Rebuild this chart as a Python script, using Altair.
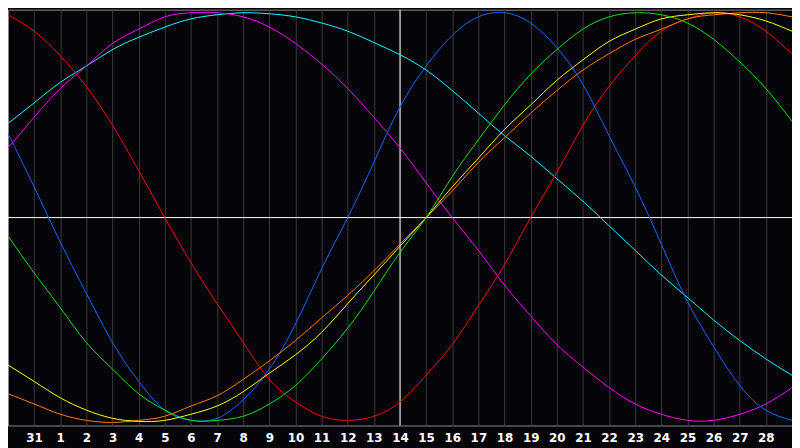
import json
import altair as alt
import pandas as pd

# Day labels for indices 0..30 (index 0 and 30 sit on the frame, unlabeled)
day_labels = ["30", "31"] + [str(d) for d in range(1, 30)]
label_idx = list(range(1, 30))
today_idx = 15  # "14"

# Biorhythm values (percent), read at each day index 0..30
physical = [41, 15, -12, -37, -61, -80, -94, -99, -98, -89, -74, -52, -25, 0, 27, 54,
            74, 89, 98, 100, 95, 83, 65, 40, 15, -13, -41, -63, -82, -94, -99]
emotional = [99, 91, 79, 64, 45, 23, 0, -22, -42, -61, -79, -90, -97, -99, -97, -90,
             -77, -62, -43, -23, 0, 22, 45, 64, 79, 91, 97, 100, 98, 91, 80]
intellectual = [-9, -27, -44, -61, -74, -86, -94, -99, -99, -97, -91, -82, -69, -54, -36, -17,
                0, 20, 38, 55, 70, 82, 92, 98, 100, 99, 95, 87, 76, 63, 47]
intuitive = [34, 49, 63, 74, 85, 92, 98, 100, 100, 98, 93, 85, 75, 63, 49, 34,
             17, 0, -16, -33, -48, -62, -73, -83, -91, -96, -99, -99, -96, -91, -83]
aesthetic = [-72, -80, -88, -94, -98, -99.5, -99, -96, -92, -85, -76, -67, -56, -42, -28, -14,
             0, 15, 29, 43, 55, 67, 77, 86, 92, 97, 99, 100, 99, 96, 91]
awareness = [-86, -91, -96, -99, -100, -99, -97, -92, -87, -79, -70, -60, -49, -38, -26, -13,
             0, 13, 27, 39, 51, 62, 72, 80, 87, 92, 97, 99, 100, 100, 98]
spiritual = [46, 56, 66, 74, 82, 88, 93, 97, 99, 100, 99.5, 98, 95, 91, 85.5, 79.5,
             72, 62, 51, 40, 30, 19, 8, -4, -16, -28, -39, -50, -60, -69, -77]

series_names = ["Spiritual", "Intuitive", "Emotional", "Physical", "Awareness", "Aesthetic", "Intellectual"]
series_values = [spiritual, intuitive, emotional, physical, awareness, aesthetic, intellectual]
series_colors = ["#00ffff", "#ff00ff", "#ff0000", "#1066ff", "#ff7a00", "#ffff00", "#10e010"]

rows = []
for name, vals in zip(series_names, series_values):
    for i, v in enumerate(vals):
        rows.append({"idx": i, "value": v, "series": name})
df = pd.DataFrame(rows)

xscale = alt.Scale(domain=[0, 30], nice=False, zero=False)
yscale = alt.Scale(domain=[-101.5, 101.5], nice=False, zero=False)

label_expr = json.dumps(day_labels) + "[datum.value]"

base_x_axis = alt.Axis(
    values=label_idx,
    labelExpr=label_expr,
    grid=True,
    gridColor="#3a3a3a",
    gridWidth=1,
    ticks=False,
    domain=False,
    labelColor="#ffffff",
    labelFont="DejaVu Sans",
    labelFontWeight="bold",
    labelFontSize=12,
    labelPadding=7,
    labelFlush=False,
    title=None,
)

hrule = alt.Chart(pd.DataFrame({"value": [0]})).mark_rule(color="#ffffff", strokeWidth=1).encode(
    y=alt.Y("value:Q", scale=yscale, axis=None)
)
vrule = alt.Chart(pd.DataFrame({"idx": [today_idx]})).mark_rule(color="#ffffff", strokeWidth=1).encode(
    x=alt.X("idx:Q", scale=xscale, axis=base_x_axis)
)

lines = alt.Chart(df).mark_line(strokeWidth=1, interpolate="natural").encode(
    x=alt.X("idx:Q", scale=xscale, axis=base_x_axis),
    y=alt.Y("value:Q", scale=yscale, axis=None),
    color=alt.Color("series:N", scale=alt.Scale(domain=series_names, range=series_colors), legend=None),
    detail="series:N",
    order="idx:Q",
)

chart = alt.layer(vrule, hrule, lines).properties(
    width=790,
    height=419,
    background="#050408",
    padding={"left": 0, "top": 0, "right": 0, "bottom": 21},
    autosize=alt.AutoSizeParams(type="none"),
).configure_view(
    stroke="#8a8a8a",
    strokeWidth=1,
    fill="#050408",
)

chart.save("out.html", embed_options={"renderer": "svg", "actions": False})
